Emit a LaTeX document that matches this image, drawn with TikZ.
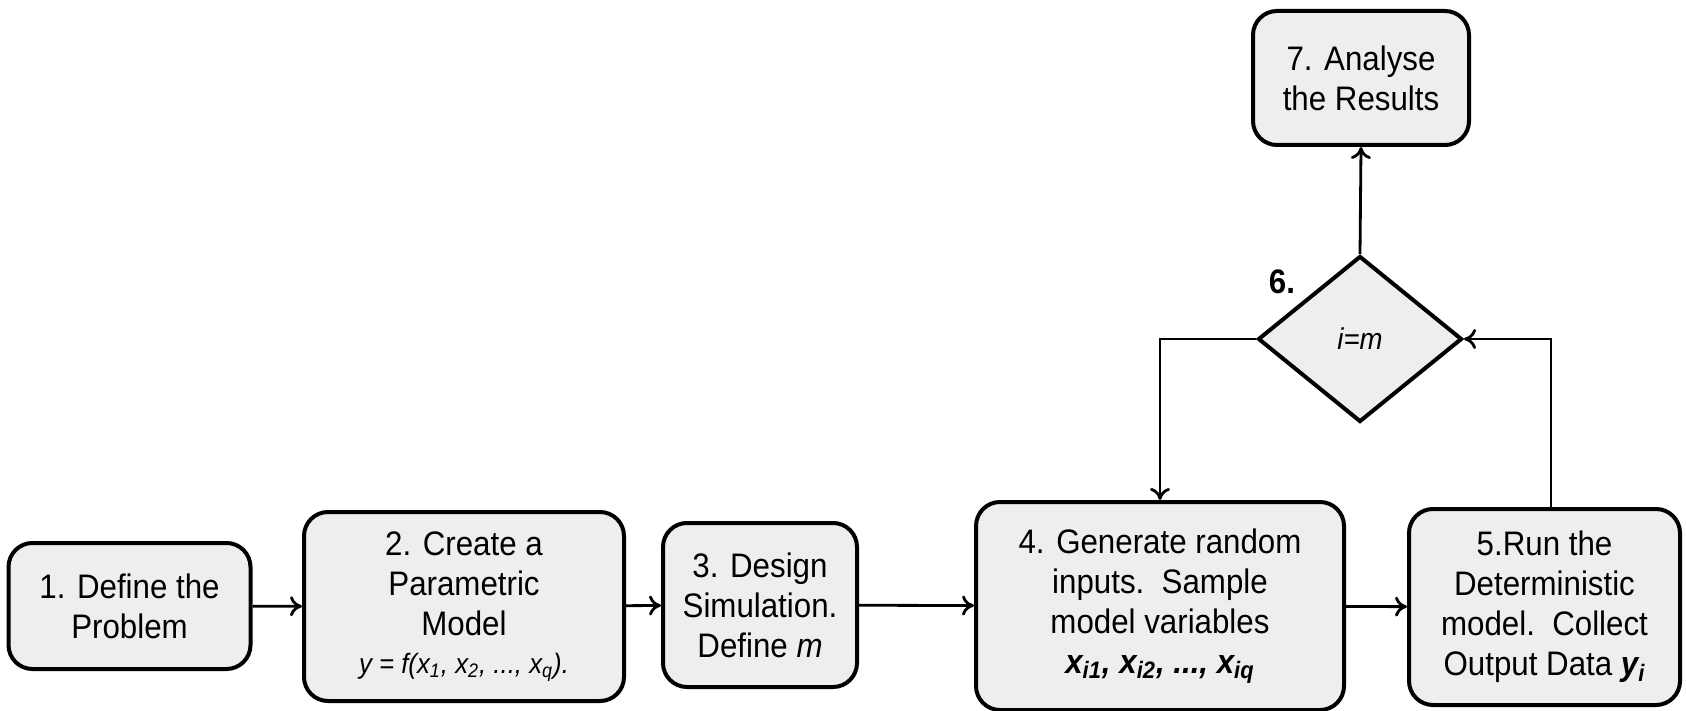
\documentclass[tikz,border=0pt]{standalone}
\usepackage{fontspec}
\setmainfont{Liberation Sans}[FakeStretch=0.92]
\usetikzlibrary{shapes.geometric,arrows.meta}
\definecolor{boxfill}{RGB}{238,238,238}
\tikzset{
  stepbox/.style={draw=black, line width=2pt, rounded corners=12pt, fill=boxfill,
    align=center, inner sep=2pt, font=\fontsize{17}{20}\selectfont},
  decision/.style={draw=black, line width=2pt, diamond, fill=boxfill, inner sep=0pt,
    font=\fontsize{15}{18}\selectfont},
  conn/.style={line width=1.4pt, -{To[length=6pt,width=10pt]}},
}
\begin{document}
\begin{tikzpicture}[x=0.5pt,y=-0.5pt]
\useasboundingbox (0,0) rectangle (1686,711);
\node[stepbox, minimum width=121pt, minimum height=63pt] (b1) at (129.5,606) {1. Define the\\Problem};
\node[stepbox, minimum width=160pt, minimum height=94.5pt] (b2) at (464,606.5) {2. Create a\\Parametric\\Model\\[-1pt]{\fontsize{14}{16}\selectfont\itshape y = f(x\textsubscript{1}, x\textsubscript{2}, ..., x\textsubscript{q}).}};
\node[stepbox, minimum width=97pt, minimum height=82pt] (b3) at (760,605) {3. Design\\Simulation.\\Define \textit{m}};
\node[stepbox, minimum width=184pt, minimum height=104pt] (b4) at (1160,606) {4. Generate random\\inputs.\ \ Sample\\model variables\\\textbf{\textit{x\textsubscript{i1}, x\textsubscript{i2}, ..., x\textsubscript{iq}}}};
\node[stepbox, minimum width=135.5pt, minimum height=98pt] (b5) at (1544.5,607) {5.Run the\\Deterministic\\model.\ \ Collect\\Output Data \textbf{\textit{y\textsubscript{i}}}};
\node[stepbox, minimum width=108pt, minimum height=67pt] (b7) at (1361,78) {7. Analyse\\the Results};
\node[decision, minimum width=102pt, minimum height=83pt, aspect=1.23] (d6) at (1360,339) {\textit{i=m}};
\node[font=\fontsize{17}{20}\selectfont\bfseries] (l6) at (1282,282) {6.};
\coordinate (rtop) at (1551,339);
\coordinate (ltop) at (1160,339);
\draw[conn] (b1) -- (b2);
\draw[conn] (b2) -- (b3);
\draw[conn] (b3) -- (b4);
\draw[conn] (b4) -- (b5);
\draw[conn] (d6.north) -- (b7.south);
\draw[conn] (d6.west) -- (ltop) -- (b4.north);
\draw[conn] (b5.north -| rtop) -- (rtop) -- (d6.east);
\end{tikzpicture}
\end{document}
